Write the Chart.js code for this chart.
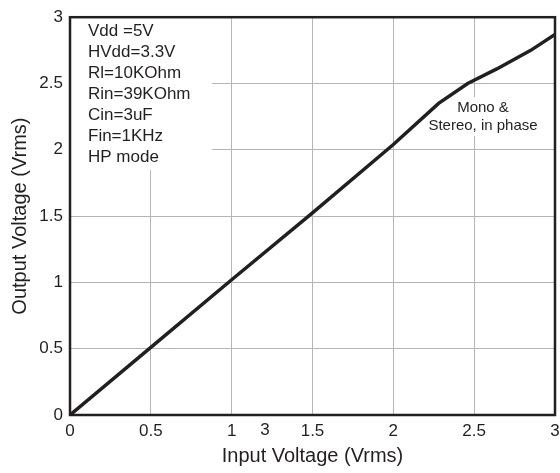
<!DOCTYPE html>
<html>
<head>
<meta charset="utf-8">
<script src="https://cdn.jsdelivr.net/npm/chart.js@4"></script>
<style>
  html, body { margin: 0; padding: 0; background: #fff; }
  #wrap { width: 560px; height: 473px; position: relative; }
</style>
</head>
<body>
<div id="wrap"><canvas id="gainChart"></canvas></div>
<script>
// values
const inputVrms  = [0, 0.5, 1.0, 1.5, 2.0, 2.28, 2.46, 2.64, 2.85, 3.0];
const outputVrms = [0, 0.51, 1.02, 1.525, 2.04, 2.35, 2.5, 2.61, 2.75, 2.87];

const conditionLines = ['Vdd =5V', 'HVdd=3.3V', 'Rl=10KOhm', 'Rin=39KOhm', 'Cin=3uF', 'Fin=1KHz', 'HP mode'];
const curveNote = ['Mono &', 'Stereo, in phase'];
const strayTick = { x: 1.206, text: '3' };   // odd extra label under the x axis

const ink = '#231f20';
const fontFamily = '"Liberation Sans", Arial, sans-serif';

const points = inputVrms.map((x, i) => ({ x: x, y: outputVrms[i] }));

// ticks written like the original: 0, 0.5, 1, 1.5 ...
const plainTick = v => String(Math.round(v * 10) / 10);

// white boxes behind the notes, text, stray label and the frame
const notesPlugin = {
    id: 'notes',
    beforeDatasetsDraw(chart) {
        const ctx = chart.ctx, a = chart.chartArea;
        ctx.save();
        ctx.fillStyle = '#fff';
        ctx.fillRect(a.left, a.top, 142, 153);
        ctx.fillRect(440, 97, 90, 39);
        ctx.restore();
    },
    afterDatasetsDraw(chart) {
        const ctx = chart.ctx, a = chart.chartArea;
        ctx.save();
        ctx.fillStyle = ink;
        ctx.textBaseline = 'middle';
        ctx.font = '17px ' + fontFamily;
        ctx.textAlign = 'left';
        conditionLines.forEach((t, i) => ctx.fillText(t, 88, 31 + i * 21.1));

        ctx.font = '15px ' + fontFamily;
        ctx.textAlign = 'center';
        curveNote.forEach((t, i) => ctx.fillText(t, 483, 108 + i * 18));

        // stray "3" among the x tick labels
        ctx.font = '17px ' + fontFamily;
        ctx.fillText(strayTick.text, chart.scales.x.getPixelForValue(strayTick.x), a.bottom + 15);

        // plot frame
        ctx.strokeStyle = ink;
        ctx.lineWidth = 2.5;
        ctx.strokeRect(a.left, a.top, a.right - a.left, a.bottom - a.top);
        ctx.restore();
    }
};

new Chart(document.getElementById('gainChart'), {
    type: 'line',
    data: {
        datasets: [{
            data: points,
            borderColor: ink,
            borderWidth: 3.5,
            pointRadius: 0,
            tension: 0,
            fill: false
        }]
    },
    options: {
        responsive: true,
        maintainAspectRatio: false,
        animation: false,
        events: [],
        layout: { padding: { top: 15, right: 5, left: 0, bottom: 0 } },
        plugins: {
            legend: { display: false },
            tooltip: { enabled: false }
        },
        scales: {
            x: {
                type: 'linear',
                min: 0, max: 3,
                grid: { color: '#b5b5b5', lineWidth: 1, drawTicks: false },
                border: { display: false },
                ticks: {
                    stepSize: 0.5,
                    padding: 6,
                    color: ink,
                    font: { family: fontFamily, size: 17 },
                    maxRotation: 0,
                    callback: plainTick
                },
                title: {
                    display: true,
                    text: 'Input Voltage (Vrms)',
                    color: ink,
                    font: { family: fontFamily, size: 20 },
                    padding: { top: 0, bottom: 5 }
                },
                afterFit(scale) {
                    scale.height = 58;
                    scale.paddingLeft = 0;
                    scale.paddingRight = 0;
                }
            },
            y: {
                min: 0, max: 3,
                grid: { color: '#b5b5b5', lineWidth: 1, drawTicks: false },
                border: { display: false },
                ticks: {
                    stepSize: 0.5,
                    padding: 7,
                    color: ink,
                    font: { family: fontFamily, size: 17 },
                    callback: plainTick
                },
                title: {
                    display: true,
                    text: 'Output Voltage (Vrms)',
                    color: ink,
                    font: { family: fontFamily, size: 20 },
                    padding: { top: 8, bottom: 0 }
                },
                afterFit(scale) { scale.width = 70; }
            }
        }
    },
    plugins: [notesPlugin]
});
</script>
</body>
</html>
